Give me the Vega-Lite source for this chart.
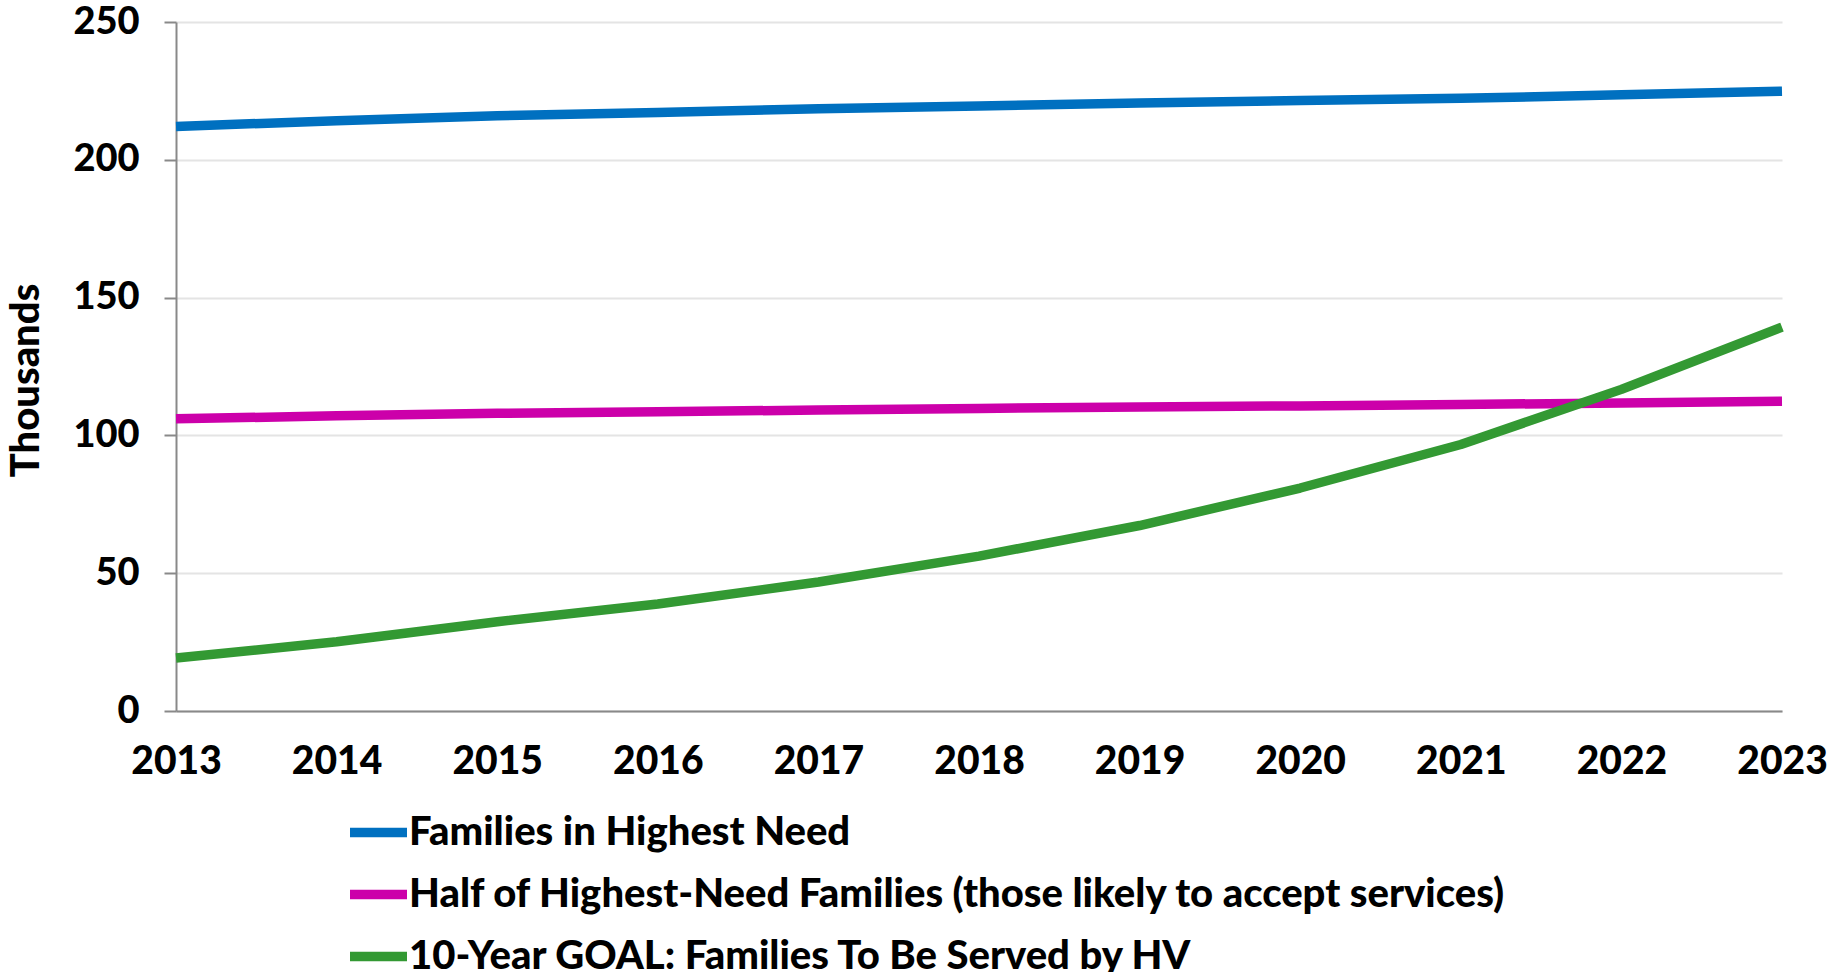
{
  "$schema": "https://vega.github.io/schema/vega-lite/v6.json",
  "autosize": {"type": "none"},
  "padding": {"left": 176, "top": 22, "right": 59, "bottom": 261},
  "width": 1606,
  "height": 689,
  "background": "white",
  "config": {
    "font": "Lato",
    "view": {"stroke": null}
  },
  "data": {
    "values": [
      {"year": 2013, "series": "Families in Highest Need", "value": 212.1},
      {"year": 2014, "series": "Families in Highest Need", "value": 214.2},
      {"year": 2015, "series": "Families in Highest Need", "value": 216.0},
      {"year": 2016, "series": "Families in Highest Need", "value": 217.2},
      {"year": 2017, "series": "Families in Highest Need", "value": 218.5},
      {"year": 2018, "series": "Families in Highest Need", "value": 219.5},
      {"year": 2019, "series": "Families in Highest Need", "value": 220.6},
      {"year": 2020, "series": "Families in Highest Need", "value": 221.5},
      {"year": 2021, "series": "Families in Highest Need", "value": 222.3},
      {"year": 2022, "series": "Families in Highest Need", "value": 223.6},
      {"year": 2023, "series": "Families in Highest Need", "value": 224.9},
      {"year": 2013, "series": "Half of Highest-Need Families (those likely to accept services)", "value": 106.0},
      {"year": 2014, "series": "Half of Highest-Need Families (those likely to accept services)", "value": 107.1},
      {"year": 2015, "series": "Half of Highest-Need Families (those likely to accept services)", "value": 108.0},
      {"year": 2016, "series": "Half of Highest-Need Families (those likely to accept services)", "value": 108.6},
      {"year": 2017, "series": "Half of Highest-Need Families (those likely to accept services)", "value": 109.2},
      {"year": 2018, "series": "Half of Highest-Need Families (those likely to accept services)", "value": 109.8},
      {"year": 2019, "series": "Half of Highest-Need Families (those likely to accept services)", "value": 110.3},
      {"year": 2020, "series": "Half of Highest-Need Families (those likely to accept services)", "value": 110.7},
      {"year": 2021, "series": "Half of Highest-Need Families (those likely to accept services)", "value": 111.2},
      {"year": 2022, "series": "Half of Highest-Need Families (those likely to accept services)", "value": 111.8},
      {"year": 2023, "series": "Half of Highest-Need Families (those likely to accept services)", "value": 112.4},
      {"year": 2013, "series": "10-Year GOAL: Families To Be Served  by HV", "value": 19.2},
      {"year": 2014, "series": "10-Year GOAL: Families To Be Served  by HV", "value": 25.1},
      {"year": 2015, "series": "10-Year GOAL: Families To Be Served  by HV", "value": 32.4},
      {"year": 2016, "series": "10-Year GOAL: Families To Be Served  by HV", "value": 38.8},
      {"year": 2017, "series": "10-Year GOAL: Families To Be Served  by HV", "value": 46.8},
      {"year": 2018, "series": "10-Year GOAL: Families To Be Served  by HV", "value": 56.2},
      {"year": 2019, "series": "10-Year GOAL: Families To Be Served  by HV", "value": 67.3},
      {"year": 2020, "series": "10-Year GOAL: Families To Be Served  by HV", "value": 80.9},
      {"year": 2021, "series": "10-Year GOAL: Families To Be Served  by HV", "value": 96.7},
      {"year": 2022, "series": "10-Year GOAL: Families To Be Served  by HV", "value": 116.7},
      {"year": 2023, "series": "10-Year GOAL: Families To Be Served  by HV", "value": 139.3}
    ]
  },
  "mark": {"type": "line", "strokeWidth": 9.5, "strokeCap": "butt", "strokeJoin": "round"},
  "encoding": {
    "x": {
      "field": "year",
      "type": "ordinal",
      "scale": {"type": "point", "padding": 0},
      "axis": {
        "title": null,
        "labelAngle": 0,
        "labelFont": "Lato",
        "labelFontSize": 39,
        "labelFontWeight": 900,
        "labelColor": "black",
        "labelPadding": 31,
        "ticks": false,
        "domainColor": "#898989",
        "domainWidth": 2,
        "grid": false
      }
    },
    "y": {
      "field": "value",
      "type": "quantitative",
      "scale": {"domain": [0, 250], "nice": false},
      "axis": {
        "title": "Thousands",
        "titleFont": "Lato",
        "titleFontSize": 40,
        "titleFontWeight": 900,
        "titleColor": "black",
        "titleX": -150,
        "titleY": 358,
        "titleBaseline": "middle",
        "titleAlign": "center",
        "titleAngle": -90,
        "values": [0, 50, 100, 150, 200, 250],
        "labelFont": "Lato",
        "labelFontSize": 38,
        "labelFontWeight": 900,
        "labelColor": "black",
        "labelPadding": 25,
        "tickSize": 12,
        "tickColor": "#898989",
        "tickWidth": 2,
        "domainColor": "#898989",
        "domainWidth": 2,
        "gridColor": "#e4e4e4",
        "gridWidth": 2
      }
    },
    "color": {
      "field": "series",
      "type": "nominal",
      "scale": {
        "domain": [
          "Families in Highest Need",
          "Half of Highest-Need Families (those likely to accept services)",
          "10-Year GOAL: Families To Be Served  by HV"
        ],
        "range": ["#0070C0", "#CC00AA", "#339933"]
      },
      "legend": {
        "title": null,
        "orient": "none",
        "legendX": 169,
        "legendY": 777,
        "direction": "vertical",
        "symbolType": "stroke",
        "symbolSize": 3249,
        "symbolStrokeWidth": 9.5,
        "labelFont": "Lato",
        "labelFontSize": 40,
        "labelFontWeight": 900,
        "labelColor": "black",
        "labelLimit": 1500,
        "labelOffset": -3,
        "rowPadding": 8
      }
    }
  }
}
